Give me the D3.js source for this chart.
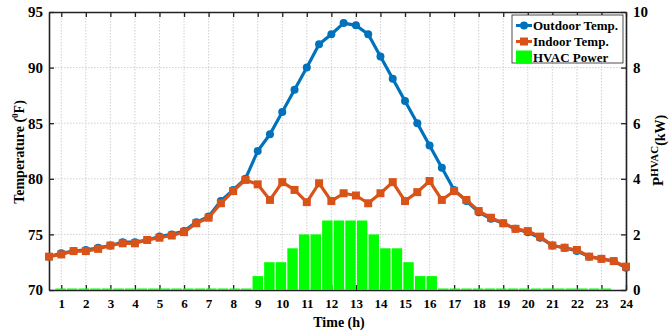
<!DOCTYPE html>
<html>
<head>
<meta charset="utf-8">
<script src="https://cdn.jsdelivr.net/npm/d3@7"></script>
<style>
  body { margin: 0; background: #fff; }
  text { font-family: "Liberation Serif", "Times New Roman", serif; font-weight: bold; }
</style>
</head>
<body>
<div id="container"></div>
<script>
// time of day, half-hour steps
const hours = [0.5, 1, 1.5, 2, 2.5, 3, 3.5, 4, 4.5, 5, 5.5, 6, 6.5, 7, 7.5, 8, 8.5, 9, 9.5, 10, 10.5, 11, 11.5, 12,
    12.5, 13, 13.5, 14, 14.5, 15, 15.5, 16, 16.5, 17, 17.5, 18, 18.5, 19, 19.5, 20, 20.5, 21, 21.5, 22, 22.5, 23, 23.5, 24];

const outdoorTemp = [73.0, 73.3, 73.5, 73.6, 73.8, 74.0, 74.3, 74.3, 74.5, 74.8, 75.0, 75.3, 76.1, 76.6, 78.0, 79.0,
    80.0, 82.5, 84.0, 86.0, 88.0, 90.0, 92.1, 93.0, 94.0, 93.8, 93.0, 91.0, 89.0, 87.0, 85.0, 83.0,
    81.0, 79.0, 78.0, 77.0, 76.4, 76.0, 75.5, 75.2, 74.7, 74.0, 73.8, 73.5, 73.0, 72.8, 72.6, 72.0];

const indoorTemp = [73.0, 73.2, 73.5, 73.5, 73.7, 74.0, 74.2, 74.2, 74.5, 74.7, 74.9, 75.2, 76.0, 76.5, 77.8, 78.9,
    79.9, 79.5, 78.1, 79.7, 79.0, 77.9, 79.6, 78.0, 78.7, 78.5, 77.8, 78.7, 79.7, 78.0, 78.8, 79.8,
    78.1, 78.9, 78.1, 77.1, 76.5, 76.0, 75.5, 75.3, 74.8, 74.0, 73.8, 73.6, 73.0, 72.8, 72.6, 72.1];

const hvacPower = [0, 0, 0, 0, 0, 0, 0, 0, 0, 0, 0, 0, 0, 0, 0, 0,
    0, 0.5, 1, 1, 1.5, 2, 2, 2.5, 2.5, 2.5, 2.5, 2, 1.5, 1.5, 1, 0.5,
    0.5, 0, 0, 0, 0, 0, 0, 0, 0, 0, 0, 0, 0, 0, 0, 0];

const hourTicks = [1, 2, 3, 4, 5, 6, 7, 8, 9, 10, 11, 12, 13, 14, 15, 16, 17, 18, 19, 20, 21, 22, 23, 24];
const tempTicks = [70, 75, 80, 85, 90, 95];
const powerTicks = [0, 2, 4, 6, 8, 10];

const legendItems = ['Outdoor Temp.', 'Indoor Temp.', 'HVAC Power'];

const blue = '#0072BD';
const orange = '#D95319';
const green = '#00FF00';

const w = 670;
const h = 331;
const mLeft = 49, mRight = 626, mTop = 12, mBottom = 290;

const svg = d3.select('#container').append('svg')
    .attr('width', w)
    .attr('height', h);

svg.append('rect').attr('width', w).attr('height', h).attr('fill', '#fff');

const x = d3.scaleLinear().domain([0.5, 24]).range([mLeft, mRight]);
const yT = d3.scaleLinear().domain([70, 95]).range([mBottom, mTop]);
const yP = d3.scaleLinear().domain([0, 10]).range([mBottom, mTop]);
// bars sit on their own index axis (matlab bar on second axes)
const xBar = d3.scaleLinear().domain([0, 49.75]).range([mLeft, mRight]);
const barStep = xBar(1) - xBar(0);

// grid
const grid = svg.append('g')
    .attr('stroke', '#c4c4c4')
    .attr('stroke-width', 0.8)
    .attr('stroke-dasharray', '1.5,1.5');

grid.selectAll('.vg')
    .data(hourTicks)
    .join('line')
    .attr('x1', d => x(d)).attr('x2', d => x(d))
    .attr('y1', mTop).attr('y2', mBottom);

grid.selectAll('.hg')
    .data(tempTicks.slice(1, -1))
    .join('line')
    .attr('x1', mLeft).attr('x2', mRight)
    .attr('y1', d => yT(d)).attr('y2', d => yT(d));

// axes
const axisBottom = d3.axisBottom(x).tickValues(hourTicks).tickSizeInner(-5).tickSizeOuter(0).tickPadding(9);
const axisTop = d3.axisTop(x).tickValues(hourTicks).tickSizeInner(-5).tickSizeOuter(0).tickFormat('');
const axisLeft = d3.axisLeft(yT).tickValues(tempTicks).tickSizeInner(-5).tickSizeOuter(0).tickPadding(6);
const axisRight = d3.axisRight(yP).tickValues(powerTicks).tickSizeInner(-5).tickSizeOuter(0).tickPadding(7);

const styleAxis = (g, size) => {
    g.select('.domain').attr('stroke', '#222').attr('stroke-width', 1.6);
    g.selectAll('.tick line').attr('stroke', '#222').attr('stroke-width', 1.3);
    g.selectAll('.tick text')
        .attr('fill', '#000')
        .style('font-family', '"Liberation Serif", serif')
        .style('font-weight', 'bold')
        .style('font-size', size + 'px');
};

svg.append('g').attr('transform', `translate(0,${mBottom})`).call(axisBottom).call(g => styleAxis(g, 13));
svg.append('g').attr('transform', `translate(0,${mTop})`).call(axisTop).call(g => styleAxis(g, 13));
svg.append('g').attr('transform', `translate(${mLeft},0)`).call(axisLeft).call(g => styleAxis(g, 15));
svg.append('g').attr('transform', `translate(${mRight},0)`).call(axisRight).call(g => styleAxis(g, 15));

// hvac bars
svg.append('g')
    .selectAll('rect')
    .data(hvacPower)
    .join('rect')
    .attr('x', (d, i) => xBar(i + 1) - barStep * 0.45)
    .attr('width', barStep * 0.9)
    .attr('y', d => Math.min(yP(d), mBottom - 1.5))
    .attr('height', d => Math.max(yP(0) - yP(d), 1.5))
    .attr('fill', green);

// outdoor temperature
const line = d3.line().x(d => x(d[0])).y(d => yT(d[1]));
const outdoor = hours.map((t, i) => [t, outdoorTemp[i]]);
const indoor = hours.map((t, i) => [t, indoorTemp[i]]);

svg.append('path')
    .datum(outdoor)
    .attr('d', line)
    .attr('fill', 'none')
    .attr('stroke', blue)
    .attr('stroke-width', 3.2)
    .attr('stroke-linejoin', 'round');

svg.append('g')
    .selectAll('circle')
    .data(outdoor)
    .join('circle')
    .attr('cx', d => x(d[0]))
    .attr('cy', d => yT(d[1]))
    .attr('r', 4)
    .attr('fill', blue);

// indoor temperature
svg.append('path')
    .datum(indoor)
    .attr('d', line)
    .attr('fill', 'none')
    .attr('stroke', orange)
    .attr('stroke-width', 3.2)
    .attr('stroke-linejoin', 'round');

svg.append('g')
    .selectAll('rect')
    .data(indoor)
    .join('rect')
    .attr('x', d => x(d[0]) - 4)
    .attr('y', d => yT(d[1]) - 4)
    .attr('width', 8)
    .attr('height', 8)
    .attr('fill', orange);

// axis titles
svg.append('text')
    .attr('transform', 'translate(24,152) rotate(-90)')
    .attr('text-anchor', 'middle')
    .attr('font-size', 14)
    .call(t => {
        t.append('tspan').text('Temperature (');
        t.append('tspan').attr('font-size', 9).attr('dy', -6).text('0');
        t.append('tspan').attr('dy', 6).text('F)');
    });

svg.append('text')
    .attr('transform', 'translate(663,186) rotate(-90)')
    .attr('font-size', 15)
    .call(t => {
        t.append('tspan').text('P');
        t.append('tspan').attr('font-size', 11).attr('dy', -5).text('HVAC');
        t.append('tspan').attr('font-size', 14).attr('dy', 7).text('(kW)');
    });

svg.append('text')
    .attr('x', 339)
    .attr('y', 327)
    .attr('text-anchor', 'middle')
    .attr('font-size', 14)
    .text('Time (h)');

// legend
const legend = svg.append('g').attr('transform', 'translate(512,15)');
legend.append('rect')
    .attr('width', 111).attr('height', 48)
    .attr('fill', '#fff').attr('stroke', '#222').attr('stroke-width', 0.8);

const rowY = [10.5, 26.5, 42];
legendItems.forEach((name, i) => {
    const g = legend.append('g').attr('transform', `translate(0,${rowY[i]})`);
    if (i === 0) {
        g.append('line').attr('x1', 4).attr('x2', 20).attr('stroke', blue).attr('stroke-width', 3);
        g.append('circle').attr('cx', 12).attr('r', 4).attr('fill', blue);
    } else if (i === 1) {
        g.append('line').attr('x1', 4).attr('x2', 20).attr('stroke', orange).attr('stroke-width', 3);
        g.append('rect').attr('x', 8).attr('y', -4).attr('width', 8).attr('height', 8).attr('fill', orange);
    } else {
        g.append('rect').attr('x', 4).attr('y', -6.5).attr('width', 16).attr('height', 13).attr('fill', green);
    }
    g.append('text')
        .attr('x', 21)
        .attr('y', 4.5)
        .attr('font-size', 13)
        .text(name);
});
</script>
</body>
</html>
